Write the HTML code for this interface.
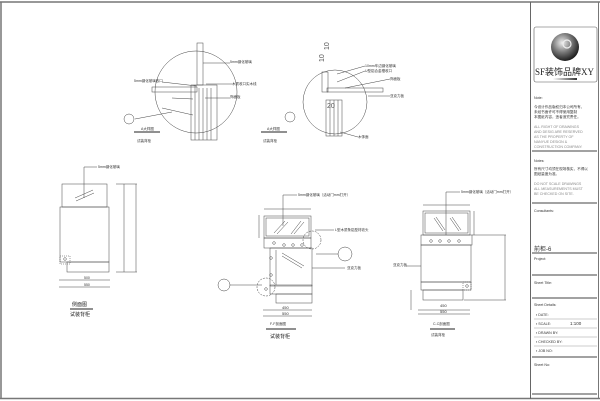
<!DOCTYPE html>
<html><head><meta charset="utf-8"><style>
html,body{margin:0;padding:0;background:#fff;}
svg{display:block;font-family:"Liberation Sans","Noto Sans CJK SC",sans-serif;}
</style></head><body>
<svg width="600" height="401" viewBox="0 0 600 401" xmlns="http://www.w3.org/2000/svg">
<g fill="none" stroke="#555" stroke-width="0.6">
<line x1="0" y1="2" x2="600" y2="2" stroke="#777" stroke-width="1.5"/>
<line x1="1" y1="2" x2="1" y2="399" stroke="#777" stroke-width="1.5"/>
<line x1="0" y1="398.5" x2="600" y2="398.5" stroke="#777" stroke-width="1.5"/>
<line x1="530.5" y1="2" x2="530.5" y2="399" stroke="#666" stroke-width="1"/>
<line x1="598.5" y1="2" x2="598.5" y2="399" stroke="#777" stroke-width="1"/>
<rect x="534" y="27" width="63" height="55" rx="2"/>
</g>
<defs><radialGradient id="g" cx="0.4" cy="0.35" r="0.7"><stop offset="0" stop-color="#eee"/><stop offset="0.5" stop-color="#777"/><stop offset="1" stop-color="#111"/></radialGradient>
<linearGradient id="b"><stop offset="0" stop-color="#fff"/><stop offset="1" stop-color="#333"/></linearGradient></defs>
<circle cx="565" cy="47" r="14" fill="url(#g)"/>
<circle cx="567" cy="44" r="4" fill="none" stroke="#eee" stroke-width="1.2"/>
<text x="535" y="75" font-size="9" fill="#222" font-family="Liberation Serif,serif">SF装饰品牌XY</text>
<rect x="553" y="78" width="24" height="2" fill="url(#b)"/>
<g font-size="3.6" fill="#333">
<text x="534" y="99">Note:</text>
<text x="534" y="108">今设计作品版权归本公司所有，</text>
<text x="534" y="113">未经书面许可不得使用复制</text>
<text x="534" y="118">本图纸内容，违者追究责任。</text>
<text x="534" y="128" fill="#888">ALL RIGHT OF DRAWINGS</text>
<text x="534" y="133" fill="#888">AND DESIG ARE RESERVED</text>
<text x="534" y="138" fill="#888">AS THE PROPERTY OF</text>
<text x="534" y="143" fill="#888">NANYUE DESIGN &amp;</text>
<text x="534" y="148" fill="#888">CONSTRUCTION COMPANY.</text>
<text x="534" y="162">Notes:</text>
<text x="534" y="170">所有尺寸均须在现场核实，不得以</text>
<text x="534" y="175">图纸量度为准。</text>
<text x="534" y="185" fill="#888">DO NOT SCALE DRAWINGS</text>
<text x="534" y="190" fill="#888">ALL MEASUREMENTS MUST</text>
<text x="534" y="195" fill="#888">BE CHECKED ON SITE.</text>
<text x="534" y="212">Consultants:</text>
<text x="534" y="260">Project:</text>
<text x="534" y="284">Sheet Title:</text>
<text x="534" y="306">Sheet Details:</text>
<text x="536" y="316">▪ DATE:</text>
<text x="536" y="325">▪ SCALE:</text><text x="570" y="325" font-size="4.5">1:100</text>
<text x="536" y="334">▪ DRAWN BY:</text>
<text x="536" y="343">▪ CHECKED BY:</text>
<text x="536" y="352">▪ JOB NO:</text>
<text x="534" y="366">Sheet No:</text>
</g>
<text x="534" y="251" font-size="6" fill="#333">前柜-6</text>
<g stroke="#444" stroke-width="1">
<line x1="532" y1="151" x2="597" y2="151"/>
<line x1="532" y1="203" x2="597" y2="203"/>
<line x1="532" y1="253" x2="597" y2="253"/>
<line x1="532" y1="275" x2="597" y2="275"/>
<line x1="532" y1="298" x2="597" y2="298"/>
<line x1="532" y1="357" x2="597" y2="357"/>
<line x1="532" y1="394" x2="597" y2="394"/>
</g>
<g stroke="#999" stroke-width="0.5"><line x1="534" y1="319" x2="597" y2="319"/><line x1="534" y1="328" x2="597" y2="328"/><line x1="534" y1="337" x2="597" y2="337"/><line x1="534" y1="346" x2="597" y2="346"/></g>

<g fill="none" stroke="#444" stroke-width="0.5">
<circle cx="196" cy="92" r="41"/>
<rect x="197" y="43" width="6" height="42"/>
<rect x="152" y="87" width="45" height="5"/>
<rect x="191" y="85" width="26" height="55"/>
<line x1="195" y1="85" x2="195" y2="140"/><line x1="199" y1="88" x2="199" y2="140"/><line x1="203" y1="88" x2="203" y2="140"/><line x1="207" y1="88" x2="207" y2="140"/><line x1="211" y1="88" x2="211" y2="140"/>
<line x1="203" y1="63" x2="230" y2="63"/><line x1="197" y1="86" x2="162" y2="82"/><line x1="206" y1="84" x2="232" y2="84"/><line x1="205" y1="98" x2="230" y2="98"/>
<line x1="193" y1="99" x2="172" y2="98"/><line x1="193" y1="115" x2="162" y2="108"/>
<line x1="135" y1="119" x2="172" y2="112"/>
<circle cx="129" cy="119" r="5"/>
<circle cx="290" cy="117" r="5"/>
<circle cx="335" cy="102" r="32"/>
<rect x="322" y="72" width="6" height="20"/>
<rect x="327" y="88" width="56" height="4"/>
<rect x="326" y="100" width="16" height="36"/>
<line x1="330" y1="100" x2="330" y2="136"/><line x1="334" y1="100" x2="334" y2="136"/><line x1="338" y1="100" x2="338" y2="136"/>
<line x1="337" y1="74" x2="365" y2="66"/><line x1="337" y1="82" x2="365" y2="71"/><line x1="345" y1="88" x2="390" y2="79"/><line x1="368" y1="96" x2="390" y2="96"/><line x1="340" y1="132" x2="358" y2="137"/>

<rect x="62" y="184" width="45" height="23"/>
<rect x="60" y="207" width="49" height="55"/>
<rect x="67" y="262" width="42" height="10"/>
<line x1="75" y1="198" x2="93" y2="190"/><line x1="76" y1="201" x2="94" y2="193"/>
<polyline points="84,198 84,167 97,167"/>
<line x1="116" y1="184" x2="137" y2="184"/><line x1="116" y1="272" x2="137" y2="272"/><line x1="136" y1="184" x2="136" y2="272"/>
<line x1="124" y1="184" x2="124" y2="272"/>
<line x1="59" y1="280" x2="110" y2="280"/><line x1="59" y1="287" x2="110" y2="287"/>
<rect x="60" y="256" width="10" height="8" stroke-dasharray="1,1"/><circle cx="65" cy="259" r="1.3"/>

<rect x="264" y="216" width="47" height="22"/><rect x="266" y="218" width="43" height="18"/>
<line x1="274" y1="233" x2="285" y2="221"/><line x1="277" y1="234" x2="288" y2="222"/><line x1="291" y1="234" x2="301" y2="221"/><line x1="294" y1="234" x2="304" y2="222"/>
<rect x="264" y="238" width="47" height="10"/>
<rect x="270" y="248" width="42" height="38"/><line x1="276" y1="250" x2="276" y2="285"/>
<rect x="270" y="285" width="42" height="9"/><rect x="276" y="294" width="36" height="9"/>
<line x1="282" y1="253" x2="304" y2="266"/><line x1="282" y1="256" x2="302" y2="268"/>
<circle cx="274" cy="243" r="1.3"/><circle cx="284" cy="245" r="1.3"/><circle cx="293" cy="245" r="1.3"/><circle cx="302" cy="245" r="1.3"/>
<circle cx="271" cy="258" r="1.3"/><circle cx="271" cy="275" r="1.3"/><circle cx="266" cy="289" r="1.3"/>
<circle cx="266" cy="287" r="9" stroke-dasharray="2,1"/><circle cx="312" cy="240" r="9" stroke-dasharray="2,1"/>
<circle cx="224" cy="285" r="6"/><line x1="230" y1="285" x2="262" y2="285"/>
<circle cx="345" cy="254" r="7"/><line x1="316" y1="254" x2="338" y2="254"/>
<line x1="312" y1="268" x2="345" y2="268"/>
<polyline points="283,226 283,195 297,195"/><line x1="315" y1="230" x2="334" y2="230"/>
<line x1="264" y1="209" x2="311" y2="209"/><line x1="259" y1="215" x2="259" y2="238"/>
<line x1="263" y1="310" x2="312" y2="310"/><line x1="263" y1="316" x2="312" y2="316"/>

<rect x="423" y="211" width="47" height="24"/><rect x="425" y="213" width="43" height="20"/>
<line x1="434" y1="218" x2="443" y2="231"/><line x1="436" y1="217" x2="445" y2="230"/><line x1="450" y1="218" x2="459" y2="231"/><line x1="452" y1="217" x2="461" y2="230"/>
<line x1="446" y1="211" x2="446" y2="235"/>
<rect x="421" y="235" width="51" height="10"/>
<rect x="421" y="245" width="50" height="37"/>
<rect x="421" y="282" width="50" height="8"/><rect x="463" y="282" width="8" height="8" stroke-dasharray="1,1"/><circle cx="467" cy="286" r="1.3"/>
<rect x="423" y="290" width="40" height="10"/>
<circle cx="431" cy="241" r="1.3"/><circle cx="440" cy="241" r="1.3"/><circle cx="449" cy="241" r="1.3"/><circle cx="459" cy="241" r="1.3"/>
<polyline points="446,211 446,192 460,192"/>
<line x1="406" y1="266" x2="421" y2="266"/>
<line x1="472" y1="235" x2="506" y2="235"/><line x1="505" y1="235" x2="505" y2="300"/><line x1="464" y1="300" x2="506" y2="300"/>
<line x1="474" y1="211" x2="474" y2="235"/><line x1="423" y1="205" x2="470" y2="205"/>
<line x1="411" y1="290" x2="411" y2="310"/><line x1="418" y1="310" x2="470" y2="310"/><line x1="418" y1="314" x2="470" y2="314"/>
</g>
<g stroke="#222" stroke-width="1"><line x1="134" y1="132" x2="160" y2="132"/><line x1="261" y1="132" x2="287" y2="132"/><line x1="70" y1="309" x2="93" y2="309"/><line x1="266" y1="329" x2="296" y2="329"/><line x1="430" y1="329" x2="455" y2="329"/></g>
<g font-size="3.5" fill="#333">
<text x="141" y="130">A大样图</text><text x="137" y="142">试装背柜</text>
<text x="267" y="130">A大样图</text><text x="263" y="142">试装背柜</text>
<text x="98" y="168">5mm钢化玻璃</text>
<text x="298" y="196">5mm钢化玻璃（活动门mm打开）</text>
<text x="335" y="231">L型木质条铝型材收头</text>
<text x="347" y="269">亚克力板</text>
<text x="461" y="193">5mm钢化玻璃（活动门mm打开）</text>
<text x="393" y="266">亚克力板</text>
<text x="270" y="325">F-F剖面图</text><text x="433" y="325">C-C剖面图</text>
<text x="431" y="336">试装背柜</text>
<text x="230" y="63">5mm钢化玻璃</text><text x="134" y="82">5mm钢化玻璃收口</text><text x="232" y="85">木质收口实木线</text><text x="230" y="98">饰面板</text>
<text x="365" y="67">10mm车边钢化玻璃</text><text x="365" y="72">U型铝合金槽收口</text><text x="390" y="80">饰面板</text><text x="390" y="97">亚克力板</text><text x="358" y="138">木饰面</text>
<text x="84" y="279">500</text><text x="84" y="286">550</text>
<text x="282" y="309" font-size="4">450</text><text x="282" y="315" font-size="4">550</text>
<text x="440" y="307" font-size="4">450</text><text x="440" y="313" font-size="4">550</text>
</g>
<g font-size="5" fill="#222"><text x="72" y="306">侧面图</text><text x="70" y="316">试装背柜</text><text x="270" y="338">试装背柜</text></g>
<g font-size="7" fill="#555"><text x="329" y="50" transform="rotate(-90 329 50)">10</text><text x="324" y="62" transform="rotate(-90 324 62)">10</text><text x="327" y="108">20</text></g>
</svg>
</body></html>
